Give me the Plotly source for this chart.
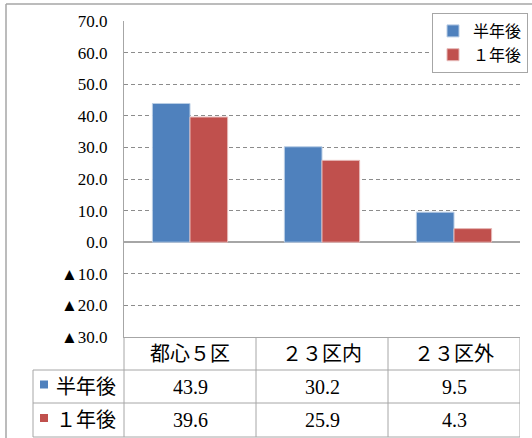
import plotly.graph_objects as go

categories = ["都心５区", "２３区内", "２３区外"]
series_names = ["半年後", "１年後"]
half_year = [43.9, 30.2, 9.5]
one_year = [39.6, 25.9, 4.3]
tick_values = [70, 60, 50, 40, 30, 20, 10, 0, -10, -20, -30]
tick_labels = ["70.0", "60.0", "50.0", "40.0", "30.0", "20.0", "10.0", "0.0",
               "▲10.0", "▲20.0", "▲30.0"]
colors = ["#4F81BD", "#C0504D"]
outline = ["#B9CDE5", "#E6B9B8"]

W, H = 532, 438
L, R, T, B = 124, 520, 21, 337


def px_x(px):
    return (px - L) / (R - L)


def px_y(py):
    return (B - py) / (B - T)


SERIF = "Times New Roman, Noto Sans CJK JP"
SERIF2 = "serif"
GRID = "#8c8c8c"
LINE = "#a6a6a6"

fig = go.Figure()
series = [half_year, one_year]
for name, vals, c, oc in zip(series_names, series, colors, outline):
    fig.add_trace(go.Bar(x=categories, y=vals, name=name,
                         marker=dict(color=c, line=dict(color=oc, width=1))))

shapes = []
# outer chart border
shapes.append(dict(type="line", xref="paper", yref="paper",
                   x0=px_x(6), x1=px_x(6), y0=px_y(445), y1=px_y(4),
                   line=dict(color=LINE, width=1.5)))
shapes.append(dict(type="line", xref="paper", yref="paper",
                   x0=px_x(6), x1=px_x(535), y0=px_y(4), y1=px_y(4),
                   line=dict(color=LINE, width=1.5)))
# table lines
row_lines = [370, 403, 437]
for py in row_lines:
    shapes.append(dict(type="line", xref="paper", yref="paper",
                       x0=px_x(33), x1=1, y0=px_y(py), y1=px_y(py),
                       line=dict(color=LINE, width=1)))
# left border of the series-name column
shapes.append(dict(type="line", xref="paper", yref="paper",
                   x0=px_x(33), x1=px_x(33), y0=px_y(370), y1=px_y(437),
                   line=dict(color=LINE, width=1)))
# axis line continuing down through table
shapes.append(dict(type="line", xref="paper", yref="paper",
                   x0=0, x1=0, y0=px_y(337), y1=px_y(437),
                   line=dict(color=LINE, width=1)))
# column separators
for i in range(1, len(categories) + 1):
    shapes.append(dict(type="line", xref="x", yref="paper",
                       x0=i - 0.5, x1=i - 0.5, y0=0, y1=px_y(437),
                       line=dict(color=LINE, width=1)))

annotations = []
header_y = px_y((337 + 370) / 2)
row_ys = [px_y((370 + 403) / 2), px_y((403 + 437) / 2)]
for i, cat in enumerate(categories):
    annotations.append(dict(x=i, y=header_y, xref="x", yref="paper", text=cat,
                            showarrow=False, font=dict(size=20, family=SERIF, color="#000"),
                            xanchor="center", yanchor="middle"))
for r, (name, vals, c) in enumerate(zip(series_names, series, colors)):
    ry = row_ys[r]
    for i, v in enumerate(vals):
        annotations.append(dict(x=i, y=ry, xref="x", yref="paper", text=f"{v:.1f}",
                                showarrow=False, font=dict(size=20, family=SERIF, color="#000"),
                                xanchor="center", yanchor="middle"))
    annotations.append(dict(x=px_x(54), y=ry, xref="paper", yref="paper", text=name,
                            showarrow=False, font=dict(size=20, family=SERIF, color="#000"),
                            xanchor="left", yanchor="middle"))
    # legend key square
    cy = (370 + 403) / 2 + r * 33.5 - 2
    shapes.append(dict(type="rect", xref="paper", yref="paper",
                       x0=px_x(40), x1=px_x(48), y0=px_y(cy - 4), y1=px_y(cy + 4),
                       fillcolor=c, line=dict(width=0)))

fig.update_layout(
    width=W, height=H,
    margin=dict(l=L, r=W - R, t=T, b=H - B, pad=0, autoexpand=False),
    paper_bgcolor="white", plot_bgcolor="white",
    barmode="group", bargap=0.43, bargroupgap=0,
    showlegend=True,
    legend=dict(x=px_x(528), y=px_y(13), xanchor="right", yanchor="top",
                bgcolor="white", bordercolor=LINE, borderwidth=1,
                font=dict(size=16, family=SERIF, color="#000"),
                itemwidth=30, traceorder="normal"),
    xaxis=dict(type="category", range=[-0.5, len(categories) - 0.5],
               showticklabels=False, showgrid=False, ticks="",
               showline=True, linecolor=LINE, linewidth=1, zeroline=False),
    yaxis=dict(range=[-30, 70], tickvals=tick_values, ticktext=tick_labels,
               tickfont=dict(size=17, family=SERIF2, color="#000"),
               showgrid=True, gridcolor=GRID, griddash="4px,3px", gridwidth=1,
               zeroline=True, zerolinecolor=LINE, zerolinewidth=1.5,
               showline=True, linecolor=LINE, linewidth=1,
               ticks="", ticklabelstandoff=12),
    shapes=shapes, annotations=annotations,
)

fig.write_html("out.html", post_script="document.body.style.margin='0';",
               config={"displayModeBar": False})
